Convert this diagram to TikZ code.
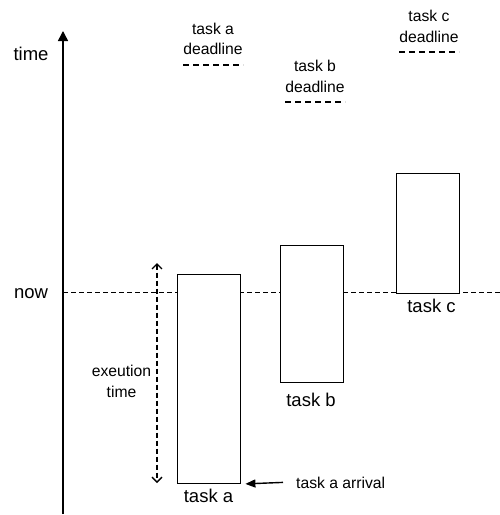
\documentclass[tikz,border=0pt]{standalone}
\usepackage{fontspec}
\setmainfont{Liberation Sans}
\usetikzlibrary{arrows.meta}
\begin{document}
\begin{tikzpicture}[x=1pt,y=-1pt,
  biglabel/.style={font=\fontsize{18.5}{22}\selectfont, inner sep=0pt},
  smalllabel/.style={font=\fontsize{15.7}{20.5}\selectfont, inner sep=0pt, align=center},
  taskbox/.style={draw, line width=1.4pt, fill=white, rectangle, inner sep=0pt, anchor=north west},
  nowline/.style={line width=1.4pt, dash pattern=on 5pt off 3pt},
  deadline/.style={line width=1.5pt, dash pattern=on 6pt off 4pt},
]
\useasboundingbox (0,0) rectangle (500,515);

% time axis
\coordinate (axisbot) at (63,514);
\coordinate (axistop) at (63,31);
\draw[line width=1.5pt, -{Triangle[length=10pt,width=10pt]}] (axisbot) -- (axistop);
\node[biglabel, anchor=base] (timelbl) at (31,60) {time};

% the "now" line
\coordinate (nowL) at (63,292.5);
\coordinate (nowR) at (500,292.5);
\draw[nowline] (nowL) -- (nowR);
\node[biglabel, anchor=base] (nowlbl) at (31,298) {now};

% execution time span of task a
\coordinate (exectop) at (157,263);
\coordinate (execbot) at (157,483);
\draw[nowline, {Straight Barb[length=5pt,width=10pt,line width=1.3pt]}-{Straight Barb[length=5pt,width=10pt,line width=1.3pt]}] (exectop) -- (execbot);
\node[smalllabel] (execlbl) at (121.5,381.5) {exeution\\time};

% tasks
\node[taskbox, minimum width=63pt, minimum height=209pt] (taska) at (177,273.5) {};
\node[taskbox, minimum width=63pt, minimum height=137pt] (taskb) at (280,244.5) {};
\node[taskbox, minimum width=63pt, minimum height=119.5pt] (taskc) at (396,173) {};

\node[biglabel, anchor=base] (taskalbl) at (208.5,502) {task a};
\node[biglabel, anchor=base] (taskblbl) at (311,406.5) {task b};
\node[biglabel, anchor=base] (taskclbl) at (431.5,312.5) {task c};

% arrival of task a
\node[smalllabel, anchor=base west] (arrlbl) at (296,488) {task a arrival};
\coordinate (arrstart) at ([xshift=-13pt]arrlbl.west);
\coordinate (arrend) at ([xshift=4pt]taska.south east);
\draw[line width=1.4pt, -{Triangle[length=10pt,width=8pt]}] (arrstart) -- (arrend);

% deadlines
\node[smalllabel] (dla) at (213,39) {task a\\deadline};
\coordinate (dlaL) at (183,65);
\coordinate (dlaR) at (243,65);
\draw[deadline] (dlaL) -- (dlaR);

\node[smalllabel] (dlb) at (315,76.5) {task b\\deadline};
\coordinate (dlbL) at (285,102);
\coordinate (dlbR) at (345,102);
\draw[deadline] (dlbL) -- (dlbR);

\node[smalllabel] (dlc) at (429,26.5) {task c\\deadline};
\coordinate (dlcL) at (399,52);
\coordinate (dlcR) at (459,52);
\draw[deadline] (dlcL) -- (dlcR);
\end{tikzpicture}
\end{document}
